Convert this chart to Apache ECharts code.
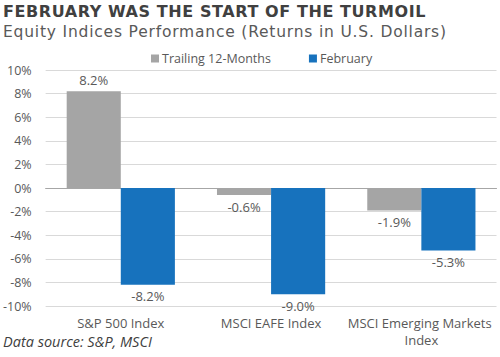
<!DOCTYPE html>
<html><head><meta charset="utf-8">
<script src="https://cdn.jsdelivr.net/npm/echarts@6/dist/echarts.min.js"></script>
<style>html,body{margin:0;padding:0;background:#fff}#c{width:500px;height:357px}</style>
</head><body><div id="c"></div>
<script>
const categories = ['S&P 500 Index', 'MSCI EAFE Index', 'MSCI Emerging Markets Index'];
const trailing12 = [8.2, -0.6, -1.9];
const february = [-8.2, -9.0, -5.3];
const seriesNames = ['Trailing 12-Months', 'February'];
const yTicks = { min: -10, max: 10, interval: 2 };
const titleText = 'FEBRUARY WAS THE START OF THE TURMOIL';
const subtitleText = 'Equity Indices Performance (Returns in U.S. Dollars)';
const sourceText = 'Data source: S&P, MSCI';

function mk(vals) {
  return vals.map(v => ({ value: v, label: { position: v < 0 ? 'bottom' : 'top' } }));
}
const lbl = { show: true, color: '#595959', fontSize: 13, fontFamily: 'Open Sans', distance: 5,
  formatter: p => p.value.toFixed(1) + '%' };

const chart = echarts.init(document.getElementById('c'), null, { renderer: 'svg' });
chart.setOption({
  animation: false,
  textStyle: { fontFamily: 'Open Sans' },
  title: [
    { text: titleText, left: 3, top: 3, padding: 0,
      textStyle: { fontFamily: 'DejaVu Sans', fontWeight: 'bold', fontSize: 16, color: '#404040' } },
    { text: subtitleText, left: 3, top: 24, padding: 0,
      textStyle: { fontFamily: 'DejaVu Sans', fontWeight: 'normal', fontSize: 15.5, color: '#595959' } },
    { text: sourceText, left: 3, top: 334, padding: 0,
      textStyle: { fontFamily: 'Open Sans', fontStyle: 'italic', fontWeight: 'normal', fontSize: 14.5, color: '#404040' } }
  ],
  legend: { top: 47, left: 146, itemWidth: 8, itemHeight: 8, itemGap: 38, icon: 'rect',
    textStyle: { fontSize: 12.5, color: '#595959', fontFamily: 'Open Sans', padding: [0, 0, 0, -2] },
    data: seriesNames },
  grid: { left: 44, right: 3.5, top: 70, bottom: 51, containLabel: false },
  xAxis: { type: 'category', data: categories,
    axisLine: { onZero: true, lineStyle: { color: '#A6A6A6', width: 1 } },
    axisTick: { show: false },
    axisLabel: { interval: 0, color: '#595959', fontSize: 13, margin: 8, width: 150, overflow: 'break', lineHeight: 17,
      fontFamily: 'Open Sans' } },
  yAxis: { type: 'value', min: yTicks.min, max: yTicks.max, interval: yTicks.interval,
    axisLine: { show: false }, axisTick: { show: false },
    axisLabel: { color: '#595959', fontSize: 12.5, margin: 14, formatter: v => v + '%', fontFamily: 'Open Sans' },
    splitLine: { lineStyle: { color: '#D9D9D9', width: 1 } } },
  series: [
    { name: seriesNames[0], type: 'bar', data: mk(trailing12), barWidth: '36%', barGap: '0%',
      itemStyle: { color: '#A5A5A5' }, label: lbl },
    { name: seriesNames[1], type: 'bar', data: mk(february), barWidth: '36%',
      itemStyle: { color: '#1772BD' }, label: lbl }
  ]
});
// letter spacing for the title texts (as in the reference)
document.querySelectorAll('#c svg text').forEach(t => {
  if (t.textContent === titleText) t.setAttribute('letter-spacing', '0.58');
  if (t.textContent === subtitleText) t.setAttribute('letter-spacing', '0.8');
});
</script></body></html>
